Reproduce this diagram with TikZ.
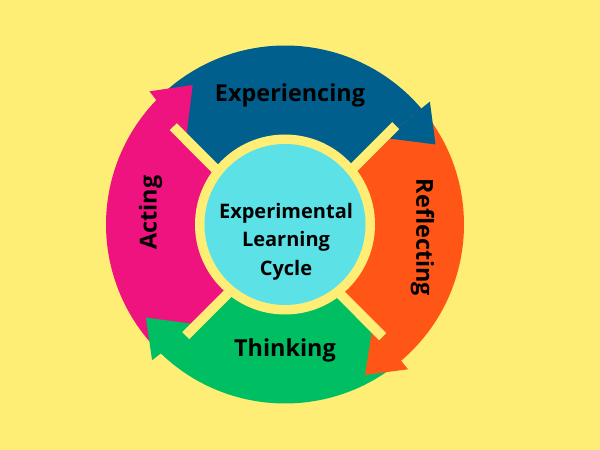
\documentclass[tikz,border=0pt]{standalone}
\usepackage{fontspec}
\setmainfont{Open Sans}
\usepackage{tikz}

\definecolor{bgyellow}{HTML}{FFEE75}
\definecolor{expblue}{HTML}{005F8C}
\definecolor{refred}{HTML}{FF5617}
\definecolor{thkgreen}{HTML}{00BF63}
\definecolor{actpink}{HTML}{EE137F}
\definecolor{corecyan}{HTML}{5CE1E6}

\tikzset{
  stagetext/.style={font=\bfseries\fontsize{23.4}{28}\selectfont, inner sep=0pt},
  centretext/.style={font=\bfseries\fontsize{20}{28.4}\selectfont, align=center, inner sep=0pt}
}

\begin{document}
\begin{tikzpicture}[x=1pt,y=1pt]

	\fill[bgyellow] (0,0) rectangle (600,450);
	\coordinate (C) at (285,225.5);

	\begin{scope}[shift={(C)}]
		\coordinate (X) at (0,-12.9);
		% inner barbs, on the bars
		\coordinate (bExp) at (99.5,86.6);
		\coordinate (bRef) at (87.9,-100.8);
		\coordinate (bThk) at (-87.1,-100);
		\coordinate (bAct) at (-99,86.1);
		% colour / tail / base / tail barb / head barb
		\foreach \col/\ta/\tb/\tailb/\headb in {expblue/135.5/40.3/bAct/bExp, refred/40.3/-49.65/bExp/bRef,
			thkgreen/-49.65/-134.4/bRef/bThk, actpink/-134.4/-224.5/bThk/bAct}
		{
			\fill[\col] (X) -- (\tailb) -- (\ta:179) arc[start angle=\ta, end angle=\tb, radius=179]
				-- (\headb) -- cycle;
		}
		% arrow heads on top of the next tail
		\foreach \col/\tb/\headb/\tt/\tr in {expblue/40.3/bExp/28/170.5, refred/-49.65/bRef/-62/170.4,
			thkgreen/-134.4/bThk/-146.2/167.4, actpink/-224.5/bAct/-236.5/167.3}
		{
			\fill[\col] (\headb) -- (\tb:190) -- (\tt:\tr) -- cycle;
		}
	\end{scope}

	% yellow bars
	\coordinate (tl) at (173.3,323.3);
	\coordinate (br) at (382.7,113.3);
	\coordinate (tr) at (395.7,324.3);
	\coordinate (bl) at (185.7,114.3);
	\draw[bgyellow, line width=10pt] (tl) -- (br);
	\draw[bgyellow, line width=10pt] (tr) -- (bl);

	\fill[bgyellow] (C) circle (90);
	\fill[corecyan] (C) circle (80.5);

	\node[centretext] (core) at (286,208.5) {Experimental\\Learning\\Cycle};

	\node[stagetext, anchor=base] (exp) at (290,348.3) {Experiencing};
	\node[stagetext, anchor=base, rotate=-90] (ref) at (416.3,212.5) {Reflecting};
	\node[stagetext, anchor=base] (thk) at (285,93) {Thinking};
	\node[stagetext, anchor=base, rotate=90] (act) at (156.7,237.5) {Acting};

\end{tikzpicture}
\end{document}
